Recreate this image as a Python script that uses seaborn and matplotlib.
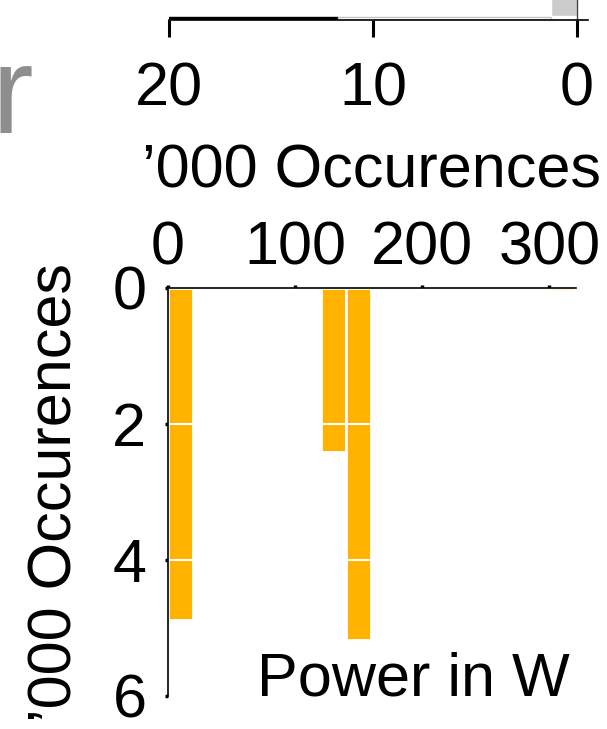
import numpy as np
import pandas as pd
import matplotlib
matplotlib.use("Agg")
import matplotlib.pyplot as plt
import seaborn as sns

# ---------------- data ----------------
# main histogram (power in W, counts in thousands)
bin_edges = [0, 20, 40, 60, 80, 100, 120, 140, 160, 180, 200, 220, 240, 260, 280, 300, 320]
bin_counts = [4.88, 0, 0, 0, 0, 0, 2.41, 5.18, 0, 0, 0, 0, 0, 0.01, 0, 0.05]
x_ticks = [0, 100, 200, 300]
y_ticks = [0, 2, 4, 6]

# top marginal (horizontal bars, '000 occurences), only the lowest slice is visible
top_seg_left = [11.7, 1.25, 0.0]
top_seg_width = [15.0, 10.45, 1.25]
top_seg_bottom = [0.0, 0.0, 3.5]
top_seg_height = [2.4, 2.4, 300.0]
top_seg_face = ["black", "white", "#cccccc"]
top_seg_edge = ["black", "#c4c4c4", "white"]
top_ticks = [20, 10, 0]

ORANGE = "#FFB300"

sns.set_theme(style="white")
plt.rcParams["font.family"] = ["Liberation Sans", "DejaVu Sans"]

W, H = 607, 729
fig = plt.figure(figsize=(W / 100, H / 100), dpi=100)


def px_axes(left, top, right, bottom):
    return fig.add_axes([left / W, 1 - bottom / H, (right - left) / W, (bottom - top) / H])


FS = 44

# ---------------- main axes ----------------
ax = px_axes(168, 288, 576, 696)
centers = [(a + b) / 2 for a, b in zip(bin_edges[:-1], bin_edges[1:])]
df = pd.DataFrame({"power": centers, "count": bin_counts})
sns.histplot(data=df, x="power", weights="count", bins=bin_edges, ax=ax,
             color=ORANGE, edgecolor="white", linewidth=2.0, alpha=1.0)
ax.set_xlim(0, 321)
ax.set_ylim(6, 0)
for lvl in y_ticks[1:-1]:
    ax.axhline(lvl, color="white", lw=1.5, zorder=2)
ax.xaxis.tick_top()
ax.set_xticks(x_ticks)
ax.set_yticks(y_ticks)
ax.set_xlabel("")
ax.set_ylabel("")
for s in ["right", "bottom"]:
    ax.spines[s].set_visible(False)
for s in ["left", "top"]:
    ax.spines[s].set_color("black")
    ax.spines[s].set_linewidth(1.2)
ax.tick_params(axis="x", which="both", top=True, bottom=False, direction="out",
               length=2.5, width=2.5, color="black", labelsize=FS, pad=5, labelcolor="black")
ax.tick_params(axis="y", which="both", left=True, direction="out",
               length=2.5, width=2.5, color="black", labelsize=FS, pad=13, labelcolor="black")
ax.set_facecolor("white")

# ---------------- top marginal axes ----------------
axt = px_axes(169, -80, 588, 19.5)
axt.barh(top_seg_bottom, top_seg_width, height=top_seg_height, left=top_seg_left,
         align="edge", color=top_seg_face, edgecolor=top_seg_edge, linewidth=1.0)
axt.axvline(0, color="#444444", lw=1.0)
axt.set_xlim(20, -0.54)
axt.set_ylim(0, 99.5)
axt.set_xticks(top_ticks)
axt.set_yticks([])
for s in ["left", "right", "top"]:
    axt.spines[s].set_visible(False)
axt.spines["bottom"].set_color("black")
axt.spines["bottom"].set_linewidth(1.2)
axt.tick_params(axis="x", bottom=True, direction="out", length=12, width=2.2,
                color="black", labelsize=FS, pad=18, labelcolor="black")
axt.set_facecolor("white")

# ---------------- texts ----------------
fig.text(371 / W, 1 - 188 / H, "\u2019000 Occurences", ha="center", va="baseline",
         fontsize=FS, color="black")
fig.text(72 / W, 1 - 492 / H, "\u2019000 Occurences", ha="center", va="baseline",
         rotation=90, rotation_mode="anchor", fontsize=FS, color="black")
fig.text(570 / W, 1 - 695 / H, "Power in W", ha="right", va="baseline",
         fontsize=FS, color="black")
fig.text(33 / W, 1 - 133 / H, "r", ha="right", va="baseline", fontsize=90, color="#8e8e8e")

fig.savefig("out.png", dpi=100, facecolor="white")
